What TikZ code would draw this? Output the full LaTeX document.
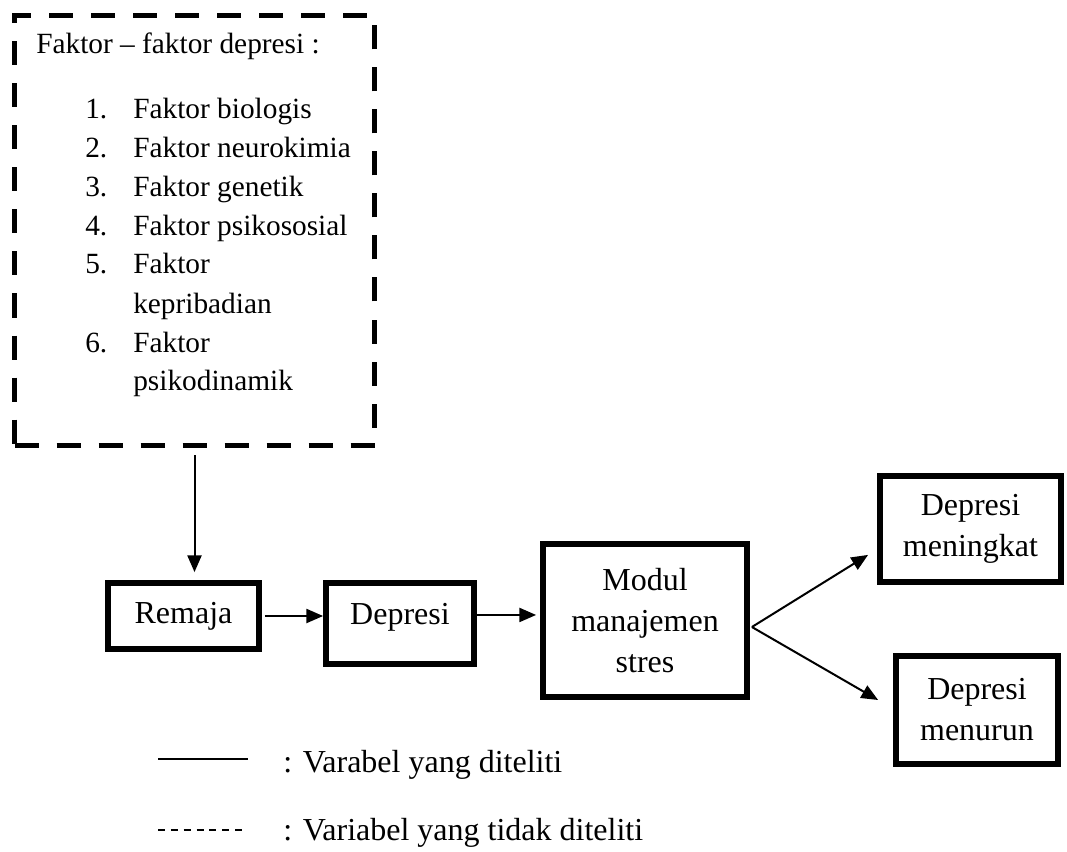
\documentclass[tikz,border=0pt]{standalone}
\usepackage{fontspec}
\setmainfont{Liberation Serif}
\usetikzlibrary{arrows.meta,calc}
\begin{document}
\begin{tikzpicture}[x=0.75pt,y=-0.75pt,
  box/.style={draw, line width=4.75pt, align=center, inner sep=0pt, font=\fontsize{24}{30.75}\selectfont},
  arr/.style={line width=1.5pt, -{Triangle[length=12.5pt,width=10.5pt]}},
  listtxt/.style={anchor=base west, inner sep=0pt, font=\fontsize{22}{29.25}\selectfont},
  legtxt/.style={anchor=base west, inner sep=0pt, font=\fontsize{24}{30}\selectfont}]
\useasboundingbox (0,0) rectangle (1067,852);
% dashed factor box
\node[draw, line width=3.75pt, dash pattern=on 18pt off 13.5pt, minimum width=270pt, minimum height=322.5pt, inner sep=0pt] (faktor) at (194.5,230.5) {};
\node[listtxt] (title) at (36,54) {Faktor – faktor depresi :};
\node[listtxt] (n1) at (85,119) {1.};
\node[listtxt] (f1) at (133,119) {Faktor biologis};
\node[listtxt] (n2) at (85,158) {2.};
\node[listtxt] (f2) at (133,158) {Faktor neurokimia};
\node[listtxt] (n3) at (85,197) {3.};
\node[listtxt] (f3) at (133,197) {Faktor genetik};
\node[listtxt] (n4) at (85,236) {4.};
\node[listtxt] (f4) at (133,236) {Faktor psikososial};
\node[listtxt] (n5) at (85,274) {5.};
\node[listtxt] (f5) at (133,274) {Faktor};
\node[listtxt] (f5b) at (133,313) {kepribadian};
\node[listtxt] (n6) at (85,352) {6.};
\node[listtxt] (f6) at (133,352) {Faktor};
\node[listtxt] (f6b) at (133,390) {psikodinamik};
% flow boxes
\node[box, minimum width=112.9pt, minimum height=49.1pt] (remaja) at (183.5,616) {Remaja};
\node[box, minimum width=110.6pt, minimum height=60.4pt, text height=15.9pt, text depth=13.7pt] (depresi) at (400,623.5) {Depresi};
\node[box, minimum width=152.6pt, minimum height=114.4pt] (modul) at (645,620.5) {Modul\\manajemen\\stres};
\node[box, minimum width=135.4pt, minimum height=79.1pt] (meningkat) at (970.5,529) {Depresi\\meningkat};
\node[box, minimum width=121.1pt, minimum height=80.6pt] (menurun) at (977,710) {Depresi\\menurun};
% connectors
\draw[arr, shorten <=5.25pt, shorten >=6pt] (faktor.south) -- (faktor.south |- remaja.north);
\draw[arr, shorten <=2.25pt] (remaja.east) -- (remaja.east -| depresi.west);
\draw[arr, shorten >=3pt] ([yshift=6.4pt]depresi.east) -- ([yshift=6.4pt]depresi.east -| modul.west);
\coordinate (split) at ($(modul.east)+(2,6.5)$);
\coordinate (tipup) at ($(meningkat.south west)+(-9,-30)$);
\coordinate (tipdown) at ($(menurun.west)+(-15,-10)$);
\draw[arr] (split) -- (tipup);
\draw[arr] (split) -- (tipdown);
% legend
\coordinate (la) at (158,759);
\coordinate (lb) at (248,759);
\coordinate (lc) at (158,830);
\coordinate (ld) at (248,830);
\draw[line width=1pt] (la) -- (lb);
\draw[line width=1pt, dash pattern=on 5.25pt off 4.4pt] (lc) -- (ld);
\node[legtxt] (leg1) at (283,772) {: Varabel yang diteliti};
\node[legtxt] (leg2) at (283,840) {: Variabel yang tidak diteliti};
\end{tikzpicture}
\end{document}
